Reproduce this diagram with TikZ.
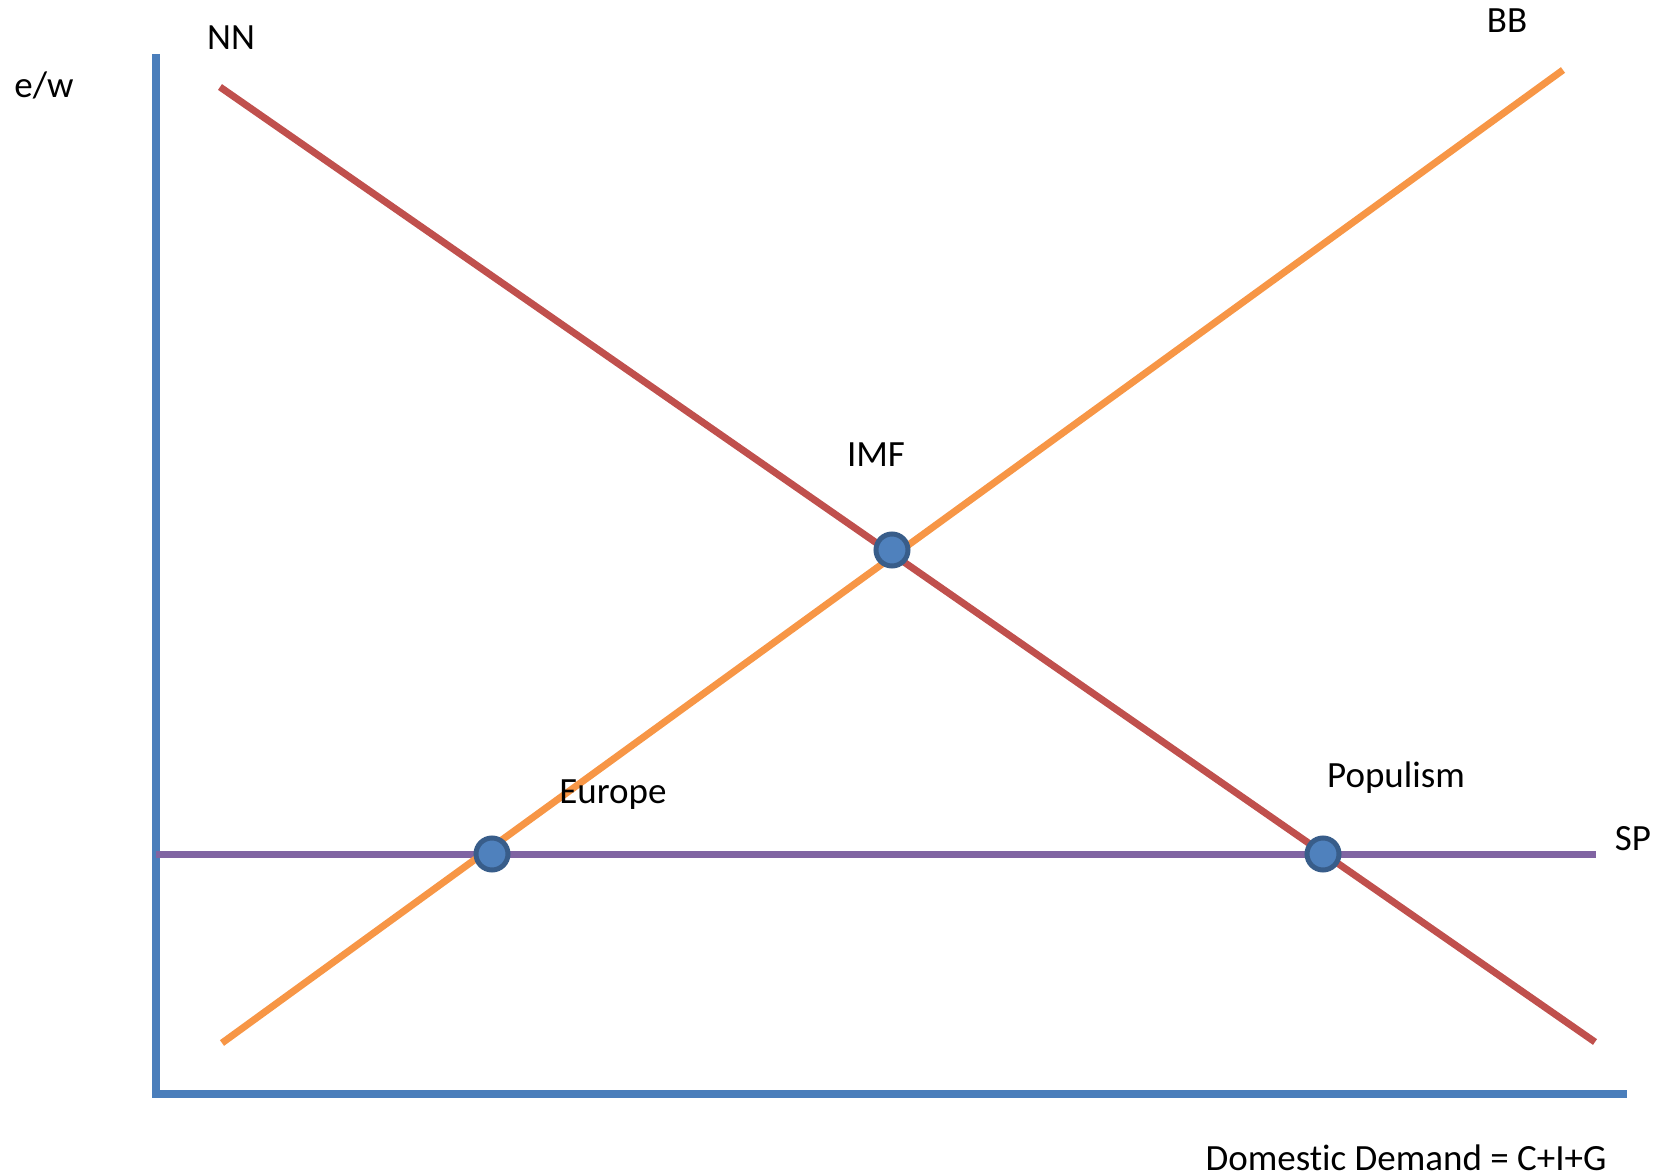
\documentclass[tikz,border=0pt]{standalone}
\usepackage{fontspec}
\setmainfont{Carlito}[Ligatures=NoCommon]
\definecolor{axisblue}{HTML}{4A7EBB}
\definecolor{nnred}{HTML}{C0504D}
\definecolor{bborange}{HTML}{F79646}
\definecolor{sppurple}{HTML}{8064A2}
\definecolor{dotfill}{HTML}{4F81BD}
\definecolor{dotedge}{HTML}{385D8A}
\begin{document}
\begin{tikzpicture}[x=0.5pt,y=-0.5pt,
  axisline/.style={draw=axisblue,line width=4pt},
  curve/.style={line width=3.5pt},
  dot/.style={circle,fill=dotfill,draw=dotedge,line width=2.5pt,minimum size=16pt,inner sep=0pt},
  lbl/.style={font=\fontsize{18.5}{22}\selectfont,anchor=base,inner sep=0pt}]
\useasboundingbox (0,0) rectangle (1667,1176);
% axes
\coordinate (ytop) at (156,54);
\coordinate (ybot) at (156,1098);
\coordinate (xbeg) at (152,1094);
\coordinate (xend) at (1627,1094);
\draw[axisline] (ytop) -- (ybot);
\draw[axisline] (xbeg) -- (xend);
% curve end points
\coordinate (nnA) at (220,87);
\coordinate (nnB) at (1595,1042);
\coordinate (bbA) at (222,1043);
\coordinate (bbB) at (1563,70);
\coordinate (spA) at (156,854);
\coordinate (spB) at (1596,854);
\draw[curve,draw=sppurple] (spA) -- (spB);
\draw[curve,draw=bborange] (bbA) -- (bbB);
\draw[curve,draw=nnred] (nnA) -- (nnB);
% equilibrium points
\node[dot] (imf) at (892,550) {};
\node[dot] (europe) at (492,854) {};
\node[dot] (populism) at (1323,854) {};
% labels
\node[lbl] (lew) at (44,98) {e/w};
\node[lbl] (lnn) at (231,50) {NN};
\node[lbl] (lbb) at (1507,33) {BB};
\node[lbl] (limf) at (876,467) {IMF};
\node[lbl] (leur) at (613,803) {Europe};
\node[lbl] (lpop) at (1396,787) {Populism};
\node[lbl] (lsp) at (1633,850) {SP};
\node[lbl] (ldd) at (1406,1170) {Domestic Demand = C+I+G};
\end{tikzpicture}
\end{document}
